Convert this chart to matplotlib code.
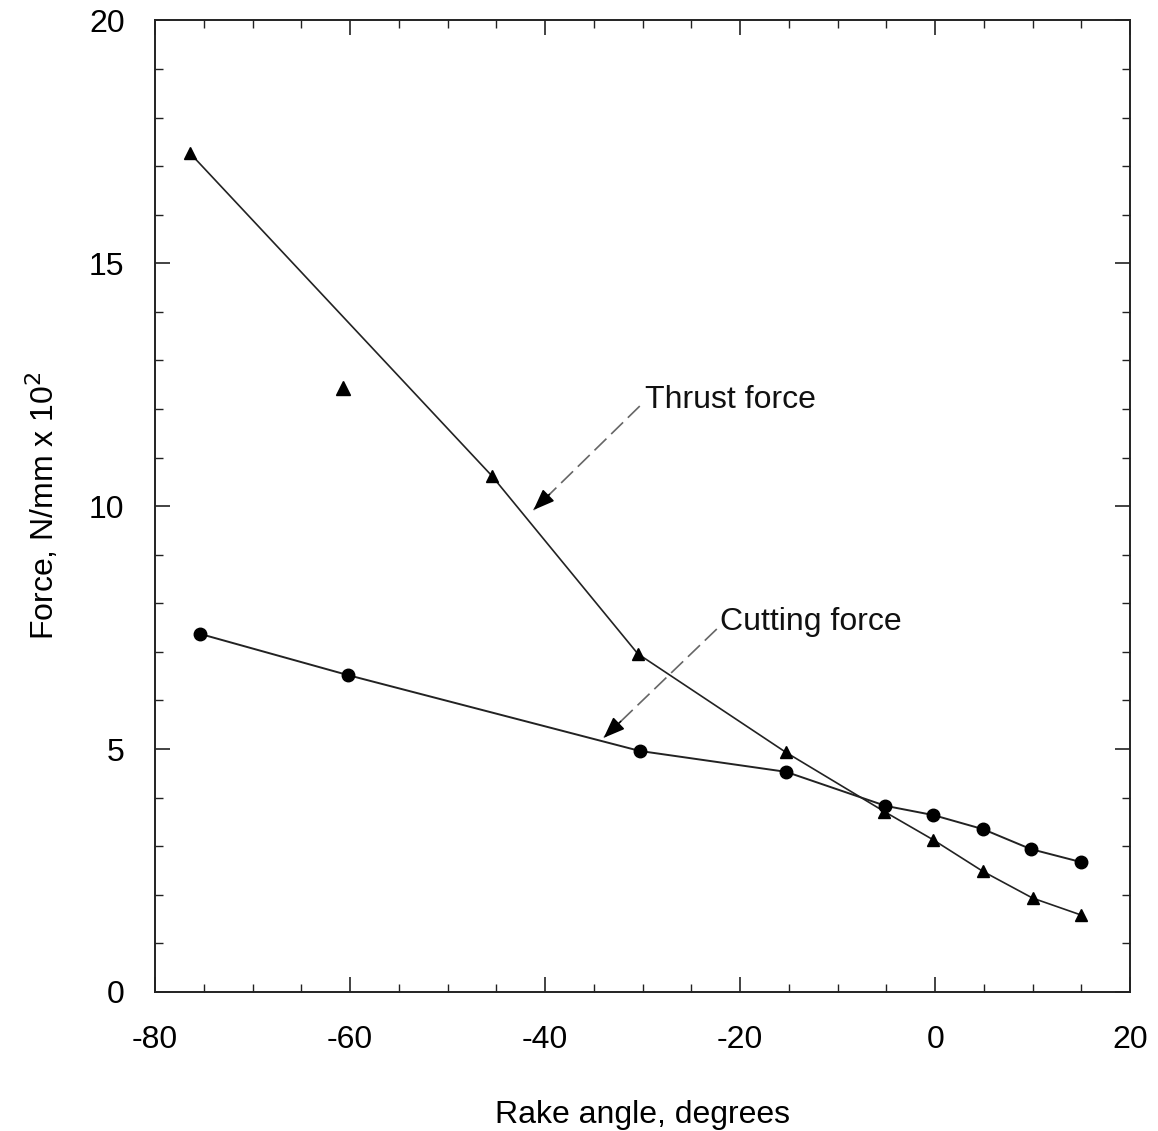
import matplotlib.pyplot as plt
from matplotlib.ticker import MultipleLocator

# thrust force (triangles)
thrust_x = [-76.4, -45.5, -30.5, -15.3, -5.2, -0.2, 4.9, 10.0, 15.0]
thrust_y = [17.26, 10.63, 6.96, 4.93, 3.71, 3.13, 2.48, 1.93, 1.58]
# stray triangle, not on the line
stray_x = [-60.7]
stray_y = [12.43]

# cutting force (circles)
cut_x = [-75.4, -60.2, -30.3, -15.3, -5.1, -0.2, 4.9, 9.8, 15.0]
cut_y = [7.37, 6.52, 4.96, 4.53, 3.83, 3.64, 3.35, 2.94, 2.67]

# labels: text position, leader start, arrow tip
labels = ['Thrust force', 'Cutting force']
label_pos = [(-29.8, 12.18), (-22.1, 7.61)]
leader_start = [(-30.3, 12.06), (-22.4, 7.47)]
leader_tip = [(-41.2, 9.92), (-34.0, 5.23)]

plt.rcParams['font.family'] = ['Liberation Sans', 'DejaVu Sans']
plt.rcParams['axes.unicode_minus'] = False
ink = '#222222'
fs = 23

fig = plt.figure(figsize=(11.58, 11.31), dpi=100)
ax = fig.add_axes([0.134, 0.123, 0.842, 0.859])

ax.plot(thrust_x, thrust_y, color=ink, lw=1.2, marker='^', ms=8, mfc='black', mec='black')
ax.plot(stray_x, stray_y, ls='none', marker='^', ms=10, mfc='black', mec='black')
ax.plot(cut_x, cut_y, color=ink, lw=1.4, marker='o', ms=9, mfc='black', mec='black')

for txt, pos, (x0, y0), (x1, y1) in zip(labels, label_pos, leader_start, leader_tip):
    ax.text(pos[0], pos[1], txt, fontsize=fs, va='center', ha='left', color='#111111')
    ax.plot([x0, x1], [y0, y1], color='#666666', lw=1.2, ls=(0, (10, 4)))
    # short solid piece carrying the head
    xb = x1 + (x0 - x1) * 0.15
    yb = y1 + (y0 - y1) * 0.15
    ax.annotate('', xy=(x1, y1), xytext=(xb, yb),
                arrowprops=dict(arrowstyle='-|>,head_length=1.3,head_width=0.5',
                                color='black', lw=1.2, shrinkA=0, shrinkB=0))

ax.set_xlim(-80, 20)
ax.set_ylim(0, 20)
ax.xaxis.set_major_locator(MultipleLocator(20))
ax.xaxis.set_minor_locator(MultipleLocator(5))
ax.yaxis.set_major_locator(MultipleLocator(5))
ax.yaxis.set_minor_locator(MultipleLocator(1))
ax.tick_params(which='both', direction='in', top=True, right=True, color=ink)
ax.tick_params(which='major', length=11, width=1.2, labelsize=fs)
ax.tick_params(which='minor', length=6, width=1.0)
ax.tick_params(axis='x', which='major', pad=24)
ax.tick_params(axis='y', which='major', pad=22)
for s in ax.spines.values():
    s.set_color(ink)
    s.set_linewidth(1.4)

ax.set_xlabel('Rake angle, degrees', fontsize=fs, labelpad=32)
ax.set_ylabel('Force, N/mm x 10$^2$', fontsize=fs, labelpad=20)

fig.savefig('out.png', dpi=100)
